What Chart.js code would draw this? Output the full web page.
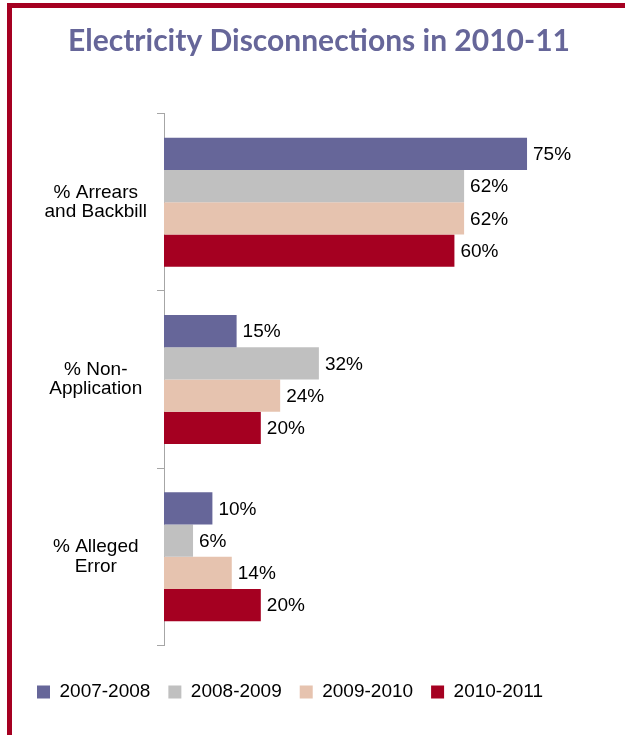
<!DOCTYPE html>
<html>
<head>
<meta charset="utf-8">
<script src="https://cdn.jsdelivr.net/npm/chart.js@4/dist/chart.umd.min.js"></script>
<style>
  html, body { margin: 0; padding: 0; background: #fff; }
  #wrap { width: 625px; height: 735px; position: relative; }
</style>
</head>
<body>
<div id="wrap"><canvas id="c" width="625" height="735"></canvas></div>
<script>
const categories = [["% Arrears", "and Backbill"], ["% Non-", "Application"], ["% Alleged", "Error"]];
const seriesNames = ["2007-2008", "2008-2009", "2009-2010", "2010-2011"];
const values2007 = [75, 15, 10];
const values2008 = [62, 32, 6];
const values2009 = [62, 24, 14];
const values2010 = [60, 20, 20];
const seriesColors = ["#666699", "#C0C0C0", "#E6C3AF", "#A50021"];
const titleText = "Electricity Disconnections in 2010-11";

const TEXT_FONT = "'Liberation Sans', Arial, sans-serif";

const framePlugin = {
  id: 'frame',
  beforeDraw(chart) {
    const ctx = chart.ctx;
    ctx.save();
    ctx.fillStyle = '#ffffff';
    ctx.fillRect(0, 0, chart.width, chart.height);
    ctx.fillStyle = '#A50021';
    ctx.fillRect(7, 3, chart.width - 7, 5);
    ctx.fillRect(7, 3, 5, chart.height - 3);
    ctx.restore();
  }
};

const valueLabels = {
  id: 'valueLabels',
  afterDatasetsDraw(chart) {
    const ctx = chart.ctx;
    ctx.save();
    ctx.font = "19px " + TEXT_FONT;
    ctx.fillStyle = '#000000';
    ctx.textAlign = 'left';
    ctx.textBaseline = 'middle';
    chart.data.datasets.forEach((ds, di) => {
      const meta = chart.getDatasetMeta(di);
      meta.data.forEach((el, i) => {
        ctx.fillText(ds.data[i] + '%', el.x + 6, el.y + 1);
      });
    });
    ctx.restore();
  }
};

const allValues = [values2007, values2008, values2009, values2010];

new Chart(document.getElementById('c'), {
  type: 'bar',
  data: {
    labels: categories,
    datasets: seriesNames.map((name, i) => ({
      label: name,
      data: allValues[i],
      backgroundColor: seriesColors[i],
      borderWidth: 0,
      categoryPercentage: 0.727,
      barPercentage: 1.0
    }))
  },
  options: {
    indexAxis: 'y',
    responsive: false,
    animation: false,
    devicePixelRatio: 1,
    layout: { padding: { left: 19, right: 6, top: 0, bottom: 23.5 } },
    scales: {
      y: {
        offset: true,
        grid: {
          display: true,
          offset: true,
          drawOnChartArea: false,
          drawTicks: true,
          tickLength: 7,
          color: '#A6A6A6',
          lineWidth: 1
        },
        border: { display: true, color: '#A6A6A6', width: 1 },
        ticks: {
          crossAlign: 'center',
          padding: 10,
          color: '#000000',
          font: { family: TEXT_FONT, size: 19, lineHeight: 1.02 }
        },
        afterFit(scale) { scale.width = 145; }
      },
      x: {
        min: 0,
        max: 94,
        display: true,
        grid: { display: false, drawTicks: false },
        border: { display: false },
        ticks: { display: false },
        afterFit(scale) { scale.height = 19; }
      }
    },
    plugins: {
      title: {
        display: true,
        text: titleText,
        color: '#666699',
        font: { family: "Lato, 'Open Sans', sans-serif", size: 30, weight: 'bold', lineHeight: 1.2 },
        padding: { top: 23, bottom: 54.5 }
      },
      legend: {
        display: true,
        position: 'bottom',
        align: 'start',
        labels: {
          boxWidth: 13,
          boxHeight: 13,
          padding: 18,
          color: '#000000',
          font: { family: TEXT_FONT, size: 19 }
        }
      },
      tooltip: { enabled: false }
    }
  },
  plugins: [framePlugin, valueLabels]
});
</script>
</body>
</html>
